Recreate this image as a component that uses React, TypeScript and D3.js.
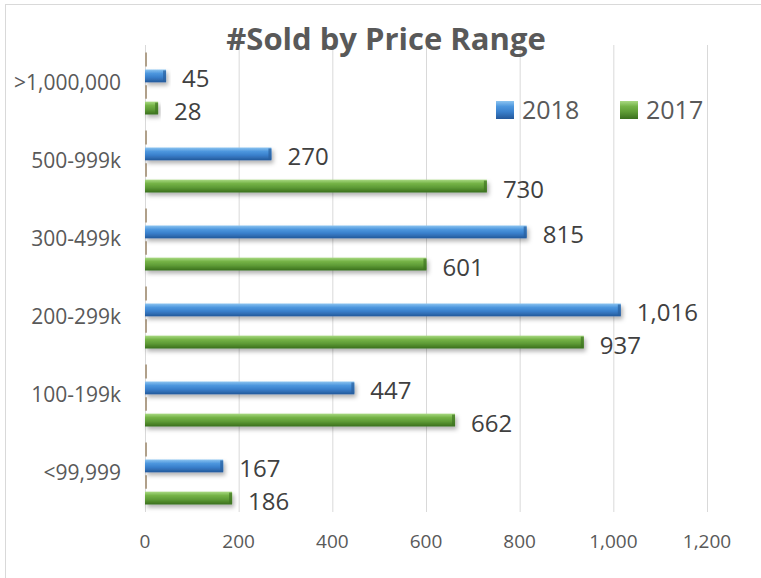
import React, { useEffect, useRef } from "react";
import * as d3 from "d3";

const categories = [">1,000,000", "500-999k", "300-499k", "200-299k", "100-199k", "<99,999"];
const sold2018 = [45, 270, 815, 1016, 447, 167];
const sold2017 = [28, 730, 601, 937, 662, 186];
const seriesNames = ["2018", "2017"];
const xTicks = [0, 200, 400, 600, 800, 1000, 1200];

const App = () => {
  const svgRef = useRef<SVGSVGElement>(null);

  const width = 761;
  const height = 578;

  useEffect(() => {
    const svg = d3.select(svgRef.current);
    svg.selectAll("*").remove();

    const font = "'Open Sans', 'DejaVu Sans', sans-serif";

    // plot area
    const plotTop = 45;
    const plotBottom = 512;

    const xScale = d3.scaleLinear().domain([0, 1200]).range([145, 707]);
    const yScale = d3.scaleBand().domain(categories).range([53, 521]);
    const subScale = d3
      .scaleBand()
      .domain(seriesNames)
      .range([-22.5, 22.5])
      .paddingInner(0.6);

    // gradients + shadow
    const defs = svg.append("defs");
    const grads = [
      { id: "g2018", stops: ["#8cc4f0", "#4d97de", "#3a80cc", "#24589a"] },
      { id: "g2017", stops: ["#a9d982", "#74b347", "#5f9c36", "#3a6f1e"] },
    ];
    grads.forEach((g) => {
      const lg = defs
        .append("linearGradient")
        .attr("id", g.id)
        .attr("x1", 0)
        .attr("y1", 0)
        .attr("x2", 0)
        .attr("y2", 1);
      [0, 0.3, 0.6, 1].forEach((o, i) => {
        lg.append("stop").attr("offset", o).attr("stop-color", g.stops[i]);
      });
    });
    defs
      .append("filter")
      .attr("id", "shadow")
      .attr("x", "-10%")
      .attr("y", "-50%")
      .attr("width", "130%")
      .attr("height", "250%")
      .append("feDropShadow")
      .attr("dx", 2)
      .attr("dy", 3)
      .attr("stdDeviation", 2)
      .attr("flood-color", "#000")
      .attr("flood-opacity", 0.3);

    // chart border
    svg
      .append("rect")
      .attr("x", 5.5)
      .attr("y", 4.5)
      .attr("width", width + 10)
      .attr("height", height + 10)
      .attr("fill", "white")
      .attr("stroke", "#d9d9d9");

    // gridlines
    svg
      .append("g")
      .selectAll("line")
      .data(xTicks)
      .enter()
      .append("line")
      .attr("x1", (d) => xScale(d) + 0.5)
      .attr("x2", (d) => xScale(d) + 0.5)
      .attr("y1", plotTop)
      .attr("y2", plotBottom)
      .attr("stroke", "#d9d9d9")
      .attr("stroke-width", 1);

    // category axis segments
    const axisG = svg.append("g");
    categories.forEach((c) => {
      const mid = yScale(c)! + yScale.bandwidth() / 2;
      const blueTop = mid + subScale("2018")!;
      const blueBottom = blueTop + subScale.bandwidth();
      const greenTop = mid + subScale("2017")!;
      [
        [blueTop - 17, blueTop - 3],
        [blueBottom + 3, greenTop - 3],
      ].forEach(([a, b]) => {
        axisG
          .append("line")
          .attr("x1", xScale(0) + 1)
          .attr("x2", xScale(0) + 1)
          .attr("y1", a)
          .attr("y2", b)
          .attr("stroke", "#b0a08a")
          .attr("stroke-width", 2);
      });
    });

    // bars
    const series = [
      { name: "2018", values: sold2018, fill: "url(#g2018)", end: "#2a5f9e" },
      { name: "2017", values: sold2017, fill: "url(#g2017)", end: "#3f7522" },
    ];

    series.forEach((s) => {
      const g = svg.append("g");
      const rows = categories.map((c, i) => ({ c, v: s.values[i] }));

      g.selectAll("rect.bar")
        .data(rows)
        .enter()
        .append("rect")
        .attr("class", "bar")
        .attr("x", xScale(0))
        .attr("y", (d) => yScale(d.c)! + yScale.bandwidth() / 2 + subScale(s.name)!)
        .attr("width", (d) => xScale(d.v) - xScale(0))
        .attr("height", subScale.bandwidth())
        .attr("fill", s.fill)
        .attr("filter", "url(#shadow)");

      // darker end cap
      g.selectAll("rect.cap")
        .data(rows)
        .enter()
        .append("rect")
        .attr("class", "cap")
        .attr("x", (d) => xScale(d.v) - 3)
        .attr("y", (d) => yScale(d.c)! + yScale.bandwidth() / 2 + subScale(s.name)! + 1)
        .attr("width", 3)
        .attr("height", subScale.bandwidth() - 2)
        .attr("fill", s.end)
        .attr("opacity", 0.7);

      // value labels
      g.selectAll("text")
        .data(rows)
        .enter()
        .append("text")
        .attr("x", (d) => xScale(d.v) + 16)
        .attr(
          "y",
          (d) =>
            yScale(d.c)! + yScale.bandwidth() / 2 + subScale(s.name)! + subScale.bandwidth() / 2 + 2
        )
        .attr("dominant-baseline", "central")
        .style("font-family", font)
        .style("font-size", "24px")
        .style("fill", "#404040")
        .text((d) => d3.format(",")(d.v));
    });

    // category labels
    svg
      .append("g")
      .selectAll("text")
      .data(categories)
      .enter()
      .append("text")
      .attr("x", 121)
      .attr("y", (d) => yScale(d)! + yScale.bandwidth() / 2 - 10)
      .attr("text-anchor", "end")
      .attr("dominant-baseline", "central")
      .style("font-family", font)
      .style("font-size", "21px")
      .style("fill", "#595959")
      .text((d) => d);

    // x tick labels
    svg
      .append("g")
      .selectAll("text")
      .data(xTicks)
      .enter()
      .append("text")
      .attr("x", (d) => xScale(d))
      .attr("y", 541)
      .attr("text-anchor", "middle")
      .attr("dominant-baseline", "central")
      .style("font-family", font)
      .style("font-size", "19px")
      .style("fill", "#595959")
      .text((d) => d3.format(",")(d));

    // title
    svg
      .append("text")
      .attr("x", 386)
      .attr("y", 50)
      .attr("text-anchor", "middle")
      .style("font-family", font)
      .style("font-size", "31px")
      .style("font-weight", "bold")
      .style("fill", "#595959")
      .text("#Sold by Price Range");

    // legend
    const legend = [
      { name: "2018", fill: "url(#g2018)", x: 496 },
      { name: "2017", fill: "url(#g2017)", x: 620 },
    ];
    legend.forEach((l) => {
      svg
        .append("rect")
        .attr("x", l.x)
        .attr("y", 101)
        .attr("width", 18)
        .attr("height", 18)
        .attr("fill", l.fill);
      svg
        .append("text")
        .attr("x", l.x + 26)
        .attr("y", 109)
        .attr("dominant-baseline", "central")
        .style("font-family", font)
        .style("font-size", "25px")
        .style("fill", "#595959")
        .text(l.name);
    });
  }, []);

  return (
    <svg
      ref={svgRef}
      width={width}
      height={height}
      style={{ position: "absolute", left: 0, top: 0, background: "white" }}
    ></svg>
  );
};

export default App;
